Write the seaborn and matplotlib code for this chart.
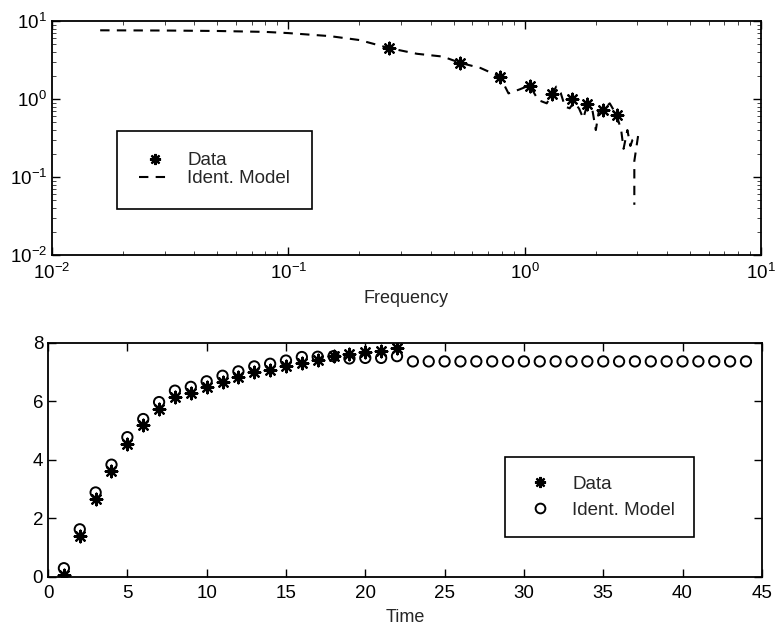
import numpy as np
import matplotlib
matplotlib.use("Agg")
import matplotlib.pyplot as plt
import seaborn as sns
from matplotlib.lines import Line2D

# frequency response: measured points
freq_data = [0.267, 0.535, 0.787, 1.05, 1.31, 1.59, 1.83, 2.14, 2.45]
mag_data = [4.47, 2.87, 1.93, 1.47, 1.15, 1.01, 0.86, 0.72, 0.62]

# frequency response: identified model (dashed)
freq_model = [0.016, 0.03, 0.05, 0.08, 0.10, 0.15, 0.20, 0.267, 0.35, 0.45,
              0.535, 0.65, 0.787, 0.854, 0.953, 1.05, 1.14, 1.24, 1.36, 1.42,
              1.48, 1.55, 1.62, 1.70, 1.77, 1.83, 1.93, 2.00, 2.06, 2.14,
              2.29, 2.45, 2.56, 2.62, 2.72, 2.80, 2.86, 3.02, 2.91, 2.91]
mag_model = [7.6, 7.55, 7.45, 7.25, 7.0, 6.4, 5.7, 4.5, 3.8, 3.5,
             2.9, 2.5, 1.93, 1.18, 1.33, 1.5, 0.97, 0.88, 1.44, 1.2,
             0.80, 0.76, 0.92, 0.75, 0.565, 0.80, 0.75, 0.40, 0.70, 0.72,
             0.88, 0.62, 0.40, 0.23, 0.40, 0.25, 0.30, 0.34, 0.16, 0.044]

# step response
time_data = np.arange(1, 23)
step_data = [0.07, 1.40, 2.66, 3.64, 4.55, 5.18, 5.75, 6.15, 6.29, 6.50, 6.67,
             6.83, 7.00, 7.09, 7.20, 7.30, 7.42, 7.57, 7.64, 7.70, 7.74, 7.82]
time_model = np.arange(1, 45)
step_model = [0.30, 1.63, 2.89, 3.84, 4.78, 5.40, 5.98, 6.37, 6.50, 6.69, 6.88,
              7.03, 7.20, 7.29, 7.40, 7.52, 7.53, 7.55, 7.47, 7.49, 7.49, 7.55,
              7.37, 7.37, 7.37, 7.37, 7.37, 7.37, 7.37, 7.37, 7.37, 7.37, 7.37,
              7.37, 7.37, 7.37, 7.37, 7.37, 7.37, 7.37, 7.37, 7.37, 7.37, 7.37]

sns.set_style("ticks")
plt.rcParams["font.family"] = ["Liberation Sans", "DejaVu Sans"]
plt.rcParams["mathtext.default"] = "regular"
plt.rcParams["xtick.direction"] = "in"
plt.rcParams["ytick.direction"] = "in"
plt.rcParams["xtick.top"] = True
plt.rcParams["ytick.right"] = True
plt.rcParams["axes.linewidth"] = 1.3
plt.rcParams["axes.edgecolor"] = "black"

star = (8, 2, 0)
fs = 13.5

fig = plt.figure(figsize=(7.75, 6.29), dpi=100)
ax1 = fig.add_axes([0.067, 0.5946, 0.915, 0.372])
ax2 = fig.add_axes([0.062, 0.0827, 0.921, 0.372])

# top: bode magnitude
sns.lineplot(x=freq_model, y=mag_model, ax=ax1, color="black", lw=1.5,
             linestyle=(0, (4.5, 3.5)), sort=False, estimator=None)
sns.scatterplot(x=freq_data, y=mag_data, ax=ax1, marker=star, s=70,
                color="black", edgecolor="black", linewidth=1.6)
ax1.set_xscale("log")
ax1.set_yscale("log")
ax1.set_xlim(1e-2, 1e1)
ax1.set_ylim(1e-2, 1e1)
ax1.set_xlabel("Frequency", fontsize=13, labelpad=5)
ax1.set_ylabel("")
h1 = [Line2D([], [], color="black", marker=star, ms=8, mew=1.6, ls="none"),
      Line2D([], [], color="black", lw=1.5, ls=(0, (4.5, 3.5)))]
leg1 = ax1.legend(h1, ["Data", "Ident. Model"], loc="upper left",
                  bbox_to_anchor=(0.092, 0.531), borderaxespad=0,
                  fontsize=fs, fancybox=False, framealpha=1, edgecolor="black",
                  borderpad=1.15, labelspacing=0.05, handlelength=1.7,
                  handletextpad=0.9)
leg1.get_frame().set_linewidth(1.2)

# bottom: step response
sns.scatterplot(x=time_data, y=step_data, ax=ax2, marker=star, s=70,
                color="black", edgecolor="black", linewidth=1.6)
sns.scatterplot(x=time_model, y=step_model, ax=ax2, marker="o", s=55,
                facecolor="none", edgecolor="black", linewidth=1.4)
ax2.set_xlim(0, 45)
ax2.set_ylim(0, 8)
ax2.set_xticks(range(0, 46, 5))
ax2.set_yticks(range(0, 9, 2))
ax2.set_xlabel("Time", fontsize=13, labelpad=5)
h2 = [Line2D([], [], color="black", marker=star, ms=8, mew=1.6, ls="none"),
      Line2D([], [], color="black", marker="o", mfc="none", ms=7, mew=1.4, ls="none")]
leg2 = ax2.legend(h2, ["Data", "Ident. Model"], loc="upper left",
                  bbox_to_anchor=(0.640, 0.512), borderaxespad=0,
                  fontsize=fs, fancybox=False, framealpha=1, edgecolor="black",
                  borderpad=1.0, labelspacing=0.45, handlelength=1.7,
                  handletextpad=0.9)
leg2.get_frame().set_linewidth(1.2)

for ax in (ax1, ax2):
    ax.tick_params(labelsize=fs, width=1.0, colors="black")
    ax.tick_params(which="major", length=6)
    ax.tick_params(which="minor", length=3)
ax1.tick_params(axis="x", pad=6)
ax2.tick_params(axis="x", pad=6)

plt.savefig("out.png", dpi=100)
